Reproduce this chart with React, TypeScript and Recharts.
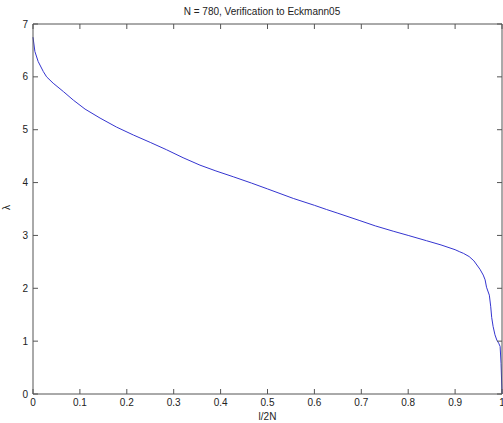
import React from "react";
import { LineChart, Line, XAxis, YAxis } from "recharts";

const xs = [0, 0.004, 0.011, 0.022, 0.029, 0.043, 0.065, 0.086, 0.111, 0.143, 0.178, 0.214, 0.25, 0.285, 0.32, 0.356, 0.39, 0.427, 0.466, 0.5, 0.555, 0.6, 0.626, 0.65, 0.697, 0.73, 0.768, 0.8, 0.839, 0.87, 0.9, 0.91, 0.918, 0.93, 0.94, 0.953, 0.96, 0.964, 0.967, 0.973, 0.976, 0.978, 0.981, 0.985, 0.989, 0.993, 0.996, 0.998, 1.0];
const lambdas = [6.75, 6.48, 6.29, 6.1, 6.0, 5.88, 5.72, 5.56, 5.39, 5.22, 5.05, 4.9, 4.76, 4.62, 4.47, 4.33, 4.22, 4.11, 3.99, 3.88, 3.7, 3.57, 3.49, 3.42, 3.28, 3.18, 3.08, 3.0, 2.9, 2.82, 2.73, 2.69, 2.66, 2.6, 2.52, 2.36, 2.25, 2.16, 2.02, 1.87, 1.65, 1.45, 1.28, 1.12, 1.02, 0.96, 0.9, 0.58, 0.0];
const xTicks = [0, 0.1, 0.2, 0.3, 0.4, 0.5, 0.6, 0.7, 0.8, 0.9, 1];
const yTicks = [0, 1, 2, 3, 4, 5, 6, 7];

const data = xs.map((x, i) => ({ x, v: lambdas[i] }));

const FONT = "'Liberation Sans', Arial, sans-serif";
const AXIS = "#555";

const NoLabel = () => <g />;

export default function App() {
  const tickStyle = { fontSize: 10, fill: "#222", fontFamily: FONT };
  return (
    <div style={{ position: "absolute", left: 0, top: 0, width: 503, height: 423, background: "#fff" }}>
      <LineChart width={503} height={423} data={data} margin={{ top: 14, right: 0, bottom: 9, left: 8 }}>
        <XAxis
          dataKey="x"
          type="number"
          domain={[0, 1]}
          ticks={xTicks}
          interval={0}
          height={20}
          tickSize={-5}
          tickMargin={10}
          stroke={AXIS}
          tick={tickStyle}
          tickFormatter={(v: number) => String(v)}
        />
        <XAxis
          xAxisId="top"
          orientation="top"
          dataKey="x"
          type="number"
          domain={[0, 1]}
          ticks={xTicks}
          interval={0}
          height={10}
          tickSize={-5}
          tickMargin={0}
          tick={NoLabel}
          stroke={AXIS}
        />
        <YAxis
          type="number"
          domain={[0, 7]}
          ticks={yTicks}
          interval={0}
          width={25}
          tickSize={-5}
          tickMargin={10}
          stroke={AXIS}
          tick={tickStyle}
        />
        <YAxis
          yAxisId="right"
          orientation="right"
          type="number"
          domain={[0, 7]}
          ticks={yTicks}
          interval={0}
          width={1}
          tickSize={-5}
          tickMargin={0}
          tick={NoLabel}
          stroke={AXIS}
        />
        <Line
          xAxisId="top"
          yAxisId="right"
          dataKey="v"
          type="linear"
          stroke="none"
          strokeWidth={0}
          dot={false}
          legendType="none"
          isAnimationActive={false}
        />
        <Line
          dataKey="v"
          type="linear"
          stroke="#3535d0"
          strokeWidth={1}
          dot={false}
          isAnimationActive={false}
        />
      </LineChart>
      <div style={{ position: "absolute", left: 0, width: 524, top: 6, textAlign: "center", fontFamily: FONT, fontSize: 10, color: "#222" }}>
        N = 780, Verification to Eckmann05
      </div>
      <div style={{ position: "absolute", left: 0, width: 535, top: 411, textAlign: "center", fontFamily: FONT, fontSize: 10, color: "#222" }}>
        l/2N
      </div>
      <div style={{ position: "absolute", left: 4, top: 202, fontFamily: FONT, fontSize: 10, color: "#222", transform: "rotate(-90deg)", transformOrigin: "center" }}>
        λ
      </div>
    </div>
  );
}
